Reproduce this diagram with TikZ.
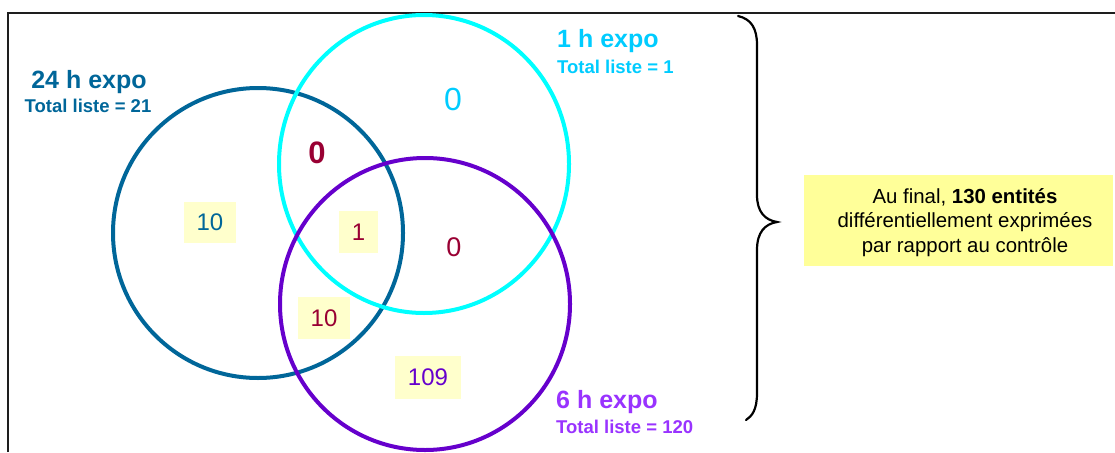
\documentclass[tikz,border=0pt]{standalone}
\usepackage{fontspec}
\setmainfont{Liberation Sans}
\definecolor{blueC}{RGB}{0,102,153}
\definecolor{cyanC}{RGB}{0,255,255}
\definecolor{cyanT}{RGB}{0,204,255}
\definecolor{purpC}{RGB}{102,0,204}
\definecolor{purpT}{RGB}{153,51,255}
\definecolor{redT}{RGB}{153,0,51}
\definecolor{boxY}{RGB}{255,255,204}
\definecolor{sumY}{RGB}{255,255,153}
\definecolor{frameC}{RGB}{30,30,30}
\tikzset{
  setcircle/.style={line width=4pt},
  title/.style={font=\fontsize{25}{30}\selectfont\bfseries, inner sep=0pt},
  total/.style={font=\fontsize{18.5}{22}\selectfont\bfseries, inner sep=0pt},
  numbox/.style={fill=boxY, inner sep=0pt, font=\fontsize{24}{28}\selectfont},
  lone/.style={inner sep=0pt, font=\fontsize{32}{34}\selectfont},
}
\begin{document}
\begin{tikzpicture}[x=1pt,y=-1pt]
\useasboundingbox (0,0) rectangle (1115,452);
% frame
\draw[frameC, line width=2pt] (8,452) -- (8,13) -- (1115,13);
% circles
\draw[setcircle, blueC] (258,233) ellipse [x radius=145, y radius=145];
\draw[setcircle, cyanC] (424,164) ellipse [x radius=145, y radius=149];
\draw[setcircle, purpC] (425,304) ellipse [x radius=145, y radius=146];
% set labels
\node[title, text=blueC, anchor=base] (t24) at (89,88) {24 h expo};
\node[total, text=blueC, anchor=base] (n24) at (88,112) {Total liste = 21};
\node[title, text=cyanT, anchor=base west] (t1) at (557,48) {1 h expo};
\node[total, text=cyanT, anchor=base west] (n1) at (557,73) {Total liste = 1};
\node[title, text=purpT, anchor=base west] (t6) at (556,408) {6 h expo};
\node[total, text=purpT, anchor=base west] (n6) at (556,433) {Total liste = 120};
% region numbers
\node[lone, text=cyanT, anchor=base] (r1) at (453,110) {0};
\node[lone, text=redT, font=\fontsize{31}{32}\selectfont\bfseries, anchor=base] (r24a) at (317,163) {0};
\node[numbox, text=blueC, minimum width=52pt, minimum height=41pt] (r24) at (210,222.5) {10};
\node[numbox, text=redT, minimum width=39pt, minimum height=42pt] (rall) at (358.5,232) {1};
\node[lone, text=redT, font=\fontsize{27}{28}\selectfont, anchor=base] (r16) at (454,256) {0};
\node[numbox, text=redT, minimum width=52pt, minimum height=42pt] (r246) at (324,318) {10};
\node[numbox, text=purpC, minimum width=66pt, minimum height=43pt] (r6) at (428,377.5) {109};
% brace
\draw[line width=2.2pt, line cap=round] (738,16) .. controls (751,19) and (757,28) .. (757,45)
  -- (757,195) .. controls (757,212) and (765,220) .. (777,222)
  .. controls (765,224) and (757,232) .. (757,250)
  -- (757,393) .. controls (757,410) and (752,416) .. (746,420);
% summary
\node[fill=sumY, minimum width=309pt, minimum height=91pt, inner sep=0pt] (summary) at (958.5,220.5) {};
\node[anchor=base, align=center, inner sep=0pt, font=\fontsize{20.4}{24.5}\selectfont] (sumtext) at (965,252)
  {Au final, \textbf{130 entités}\\différentiellement exprimées\\par rapport au contrôle};
\end{tikzpicture}
\end{document}
